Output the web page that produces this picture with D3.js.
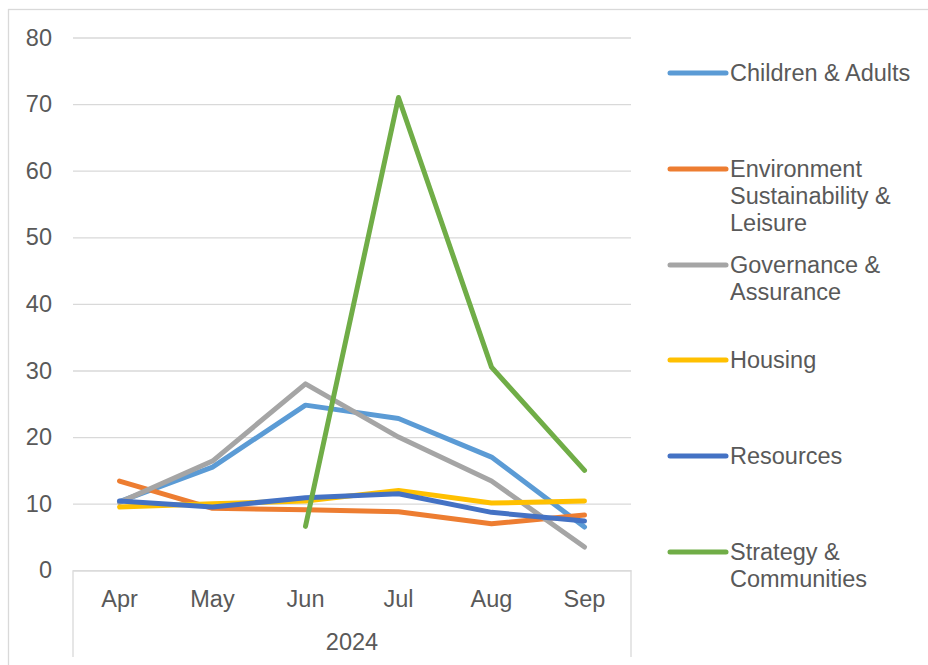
<!DOCTYPE html>
<html>
<head>
<meta charset="utf-8">
<script src="https://cdn.jsdelivr.net/npm/d3@7"></script>
<style>
  html, body { margin: 0; padding: 0; background: #fff; }
  svg { display: block; }
  text { font-family: "Liberation Sans", Arial, sans-serif; fill: #595959; }
</style>
</head>
<body>
<svg id="chart" width="928" height="665"></svg>
<script>
// Monthly figures by directorate, Apr–Sep 2024
const months = ["Apr", "May", "Jun", "Jul", "Aug", "Sep"];
const year = "2024";
const yTicks = [0, 10, 20, 30, 40, 50, 60, 70, 80];

const seriesNames = [
  "Children & Adults",
  "Environment Sustainability & Leisure",
  "Governance & Assurance",
  "Housing",
  "Resources",
  "Strategy & Communities"
];
const childrenAdults   = [10.3, 15.5, 24.8, 22.8, 17.0, 6.5];
const environment      = [13.4, 9.3, 9.1, 8.8, 7.0, 8.3];
const governance       = [10.2, 16.4, 28.0, 20.0, 13.4, 3.5];
const housing          = [9.5, 10.0, 10.4, 12.0, 10.1, 10.4];
const resources        = [10.4, 9.5, 10.9, 11.5, 8.7, 7.4];
const strategy         = [null, null, 6.6, 71.0, 30.5, 15.0];
const seriesValues = [childrenAdults, environment, governance, housing, resources, strategy];

// legend labels broken into lines as they wrap in the legend column
const legendLines = [
  ["Children & Adults"],
  ["Environment", "Sustainability &", "Leisure"],
  ["Governance &", "Assurance"],
  ["Housing"],
  ["Resources"],
  ["Strategy &", "Communities"]
];

const colors = ["#5B9BD5", "#ED7D31", "#A5A5A5", "#FFC000", "#4472C4", "#70AD47"];

const svg = d3.select("#chart");
const plot = { left: 73, right: 631, top: 37.5, bottom: 570.3 };
const gridColor = "#d9d9d9";
const fontSize = 23.5;

// outer chart border
svg.append("rect")
  .attr("x", 8.5).attr("y", 9.5)
  .attr("width", 940).attr("height", 700)
  .attr("fill", "none").attr("stroke", gridColor).attr("stroke-width", 1.3);

const x = d3.scaleBand().domain(months).range([plot.left, plot.right]).padding(0);
const y = d3.scaleLinear().domain([0, 80]).range([plot.bottom, plot.top]);

// value axis: gridlines + labels
const yAxis = svg.append("g")
  .attr("transform", `translate(${plot.left},0)`)
  .call(d3.axisLeft(y).tickValues(yTicks).tickSize(-(plot.right - plot.left)).tickPadding(21).tickFormat(d3.format("d")));
yAxis.select(".domain").remove();
yAxis.selectAll(".tick line").attr("stroke", gridColor).attr("stroke-width", 1.3);
yAxis.selectAll(".tick text").style("font-size", fontSize + "px").attr("fill", "#595959");

// category axis (two levels: month, then year)
const xAxis = svg.append("g")
  .attr("transform", `translate(0,${plot.bottom})`)
  .call(d3.axisBottom(x).tickSize(0).tickPadding(20));
xAxis.select(".domain").attr("stroke", gridColor).attr("stroke-width", 1.3);
xAxis.selectAll(".tick text").style("font-size", fontSize + "px").attr("fill", "#595959");

[plot.left, plot.right].forEach(px => {
  svg.append("line")
    .attr("x1", px).attr("x2", px)
    .attr("y1", plot.bottom).attr("y2", 657)
    .attr("stroke", gridColor).attr("stroke-width", 1.3);
});
svg.append("text")
  .attr("x", (plot.left + plot.right) / 2).attr("y", 650)
  .attr("text-anchor", "middle")
  .style("font-size", fontSize + "px")
  .text(year);

// series lines
const line = d3.line()
  .defined(d => d != null)
  .x((d, i) => x(months[i]) + x.bandwidth() / 2)
  .y(d => y(d));

seriesValues.forEach((vals, i) => {
  svg.append("path")
    .datum(vals)
    .attr("d", line)
    .attr("fill", "none")
    .attr("stroke", colors[i])
    .attr("stroke-width", 5)
    .attr("stroke-linecap", "round")
    .attr("stroke-linejoin", "round");
});

// legend
const legendY = [73, 169, 265, 360, 456, 552];
const lineHeight = 27;
seriesNames.forEach((name, i) => {
  const g = svg.append("g").attr("class", "legend-item");
  g.append("line")
    .attr("x1", 670).attr("x2", 726)
    .attr("y1", legendY[i]).attr("y2", legendY[i])
    .attr("stroke", colors[i]).attr("stroke-width", 5)
    .attr("stroke-linecap", "round");
  const t = g.append("text")
    .attr("x", 730).attr("y", legendY[i])
    .style("font-size", fontSize + "px");
  legendLines[i].forEach((ln, j) => {
    t.append("tspan").attr("x", 730).attr("dy", j === 0 ? "0.35em" : lineHeight).text(ln);
  });
});
</script>
</body>
</html>
